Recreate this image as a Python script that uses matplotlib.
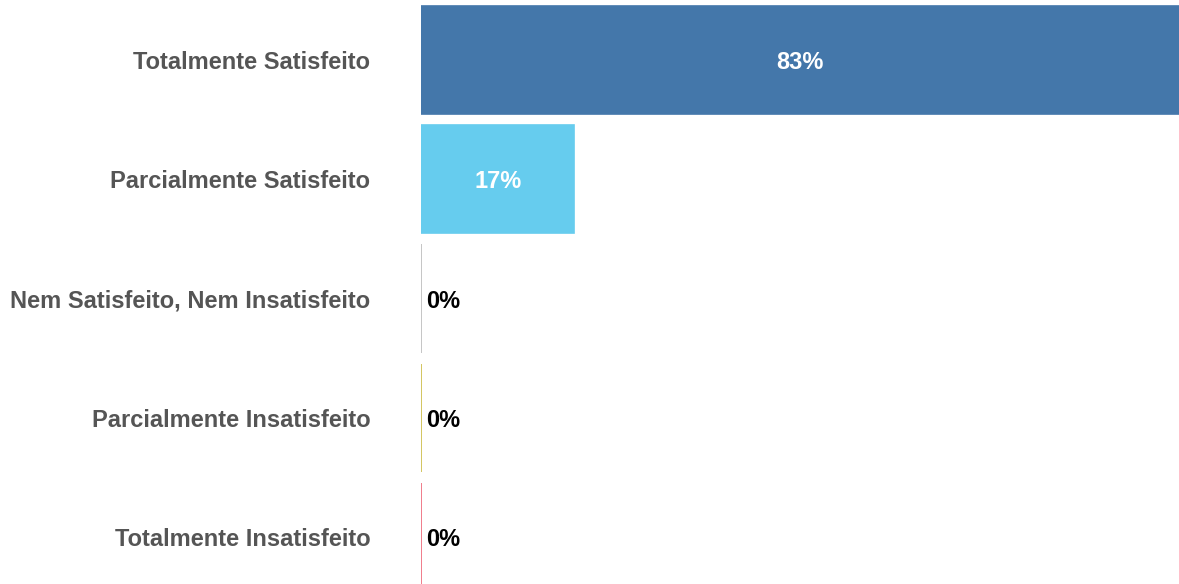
import matplotlib
matplotlib.use("Agg")
import matplotlib.pyplot as plt

categories = ["Totalmente Satisfeito", "Parcialmente Satisfeito",
              "Nem Satisfeito, Nem Insatisfeito", "Parcialmente Insatisfeito",
              "Totalmente Insatisfeito"]
values = [83.3, 16.7, 0, 0, 0]
labels = ["83%", "17%", "0%", "0%", "0%"]
colors = ["#4477AA", "#66CCEE", "#BBBBBB", "#CCBB44", "#EE6677"]

plt.rcParams['font.family'] = ['Liberation Sans', 'DejaVu Sans']

fig = plt.figure(figsize=(11.79, 5.84), dpi=100)
ax = fig.add_axes([421/1179, 0, 1 - 421/1179, 1])

y = list(range(len(categories)))
ax.barh(y, values, height=0.906, color=colors, edgecolor=colors, linewidth=1.2)
xmax = 82.6
ax.set_xlim(0, xmax)
ax.set_ylim(4 + 47/119.25, -60/119.25)

for yi, v, lab in zip(y, values, labels):
    if v > 5:
        ax.text(min(v, xmax) / 2, yi, lab, ha="center", va="center_baseline",
                color="white", fontsize=17, fontweight="bold")
    else:
        ax.annotate(lab, (v, yi), xytext=(4, 0), textcoords="offset points",
                    ha="left", va="center_baseline", color="black", fontsize=17,
                    fontweight="bold")

ax.set_yticks(y)
ax.set_yticklabels(categories, fontsize=17, fontweight="bold", color="#555555")
ax.tick_params(axis="y", length=0, pad=36.5)
ax.set_xticks([])
for s in ax.spines.values():
    s.set_visible(False)

fig.savefig("out.png", dpi=100)
